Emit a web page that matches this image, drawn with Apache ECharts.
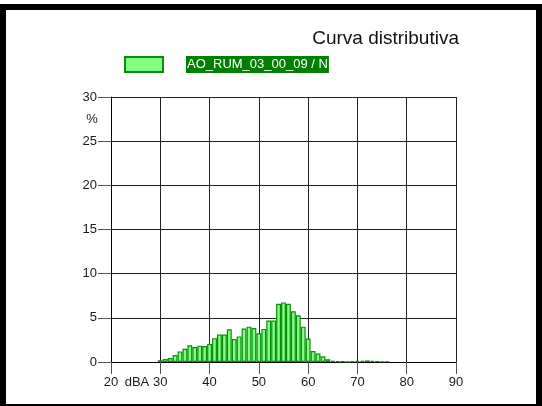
<!DOCTYPE html>
<html>
<head>
<meta charset="utf-8">
<script src="https://cdn.jsdelivr.net/npm/echarts@6/dist/echarts.min.js"></script>
<style>
html,body{margin:0;padding:0;background:#fff;}
#chart{width:542px;height:406px;}
</style>
</head>
<body>
<div id="chart"></div>
<script>
// ---- data ----
var titleText = 'Curva distributiva';
var seriesName = 'AO_RUM_03_00_09 / N';
var levels = [30,31,32,33,34,35,36,37,38,39,40,41,42,43,44,45,46,47,48,49,50,51,52,53,54,55,56,57,58,59,60,61,62,63,64,65,66,67,68,69,70,71,72,73,74,75,76];
var percents = [0.2,0.35,0.45,0.8,1.2,1.5,1.9,1.7,1.85,1.8,2.05,2.7,3.1,3.1,3.7,2.6,2.9,3.8,4.0,3.85,3.25,3.75,4.7,4.7,6.6,6.75,6.6,5.75,5.3,4.0,2.65,1.25,0.95,0.65,0.3,0.12,0.08,0.08,0.05,0.1,0.12,0.12,0.18,0.12,0.08,0.06,0.06];
var xTicks = [20,30,40,50,60,70,80,90];
var yTicks = [0,5,10,15,20,25,30];

var barData = levels.map(function(l, i){ return [l, percents[i]]; });

var chart = echarts.init(document.getElementById('chart'), null, {renderer:'canvas'});
var fontFam = '"Liberation Sans", Arial, sans-serif';
chart.setOption({
  animation: false,
  backgroundColor: '#fff',
  textStyle: {fontFamily: fontFam},
  title: {
    text: titleText,
    right: 78, top: 24,
    textStyle: {fontSize: 19, fontWeight: 'normal', color: '#111', fontFamily: fontFam}
  },
  legend: {
    left: 124, top: 56,
    itemWidth: 38, itemHeight: 15,
    padding: 0,
    data: [{name: seriesName, icon: 'rect'}],
    formatter: function(n){ return '{gap|}{lab|' + n + '}'; },
    textStyle: {
      fontFamily: fontFam,
      rich: {
        gap: {width: 18},
        lab: {backgroundColor: '#008000', color: '#fff', fontSize: 13, padding: [2, 1, 2, 1], fontFamily: fontFam}
      }
    }
  },
  grid: {left: 111, right: 86, top: 97, bottom: 44, containLabel: false, outerBoundsMode: 'none'},
  xAxis: {
    type: 'value',
    min: xTicks[0], max: xTicks[xTicks.length - 1], interval: 10,
    name: 'dBA',
    nameLocation: 'middle',
    nameGap: 14,
    nameMoveOverlap: false,
    nameTextStyle: {align: 'center', verticalAlign: 'top', padding: [0, 293, 0, 0], fontSize: 13, color: '#1a1a1a'},
    axisLine: {show: true, lineStyle: {color: '#000', width: 1}},
    axisTick: {show: true, inside: false, length: 12, lineStyle: {color: '#555'}},
    axisLabel: {margin: 14, fontSize: 13, color: '#1a1a1a'},
    splitLine: {show: true, lineStyle: {color: '#222', width: 1}}
  },
  yAxis: {
    type: 'value',
    min: yTicks[0], max: yTicks[yTicks.length - 1], interval: 5,
    name: '%',
    nameLocation: 'end',
    nameGap: -22,
    nameMoveOverlap: false,
    nameTextStyle: {align: 'center', verticalAlign: 'middle', padding: [0, 38, 0, 0], fontSize: 13, color: '#1a1a1a'},
    axisLine: {show: true, lineStyle: {color: '#000', width: 1}},
    axisTick: {show: true, inside: false, length: 13, lineStyle: {color: '#555'}},
    axisLabel: {margin: 14, fontSize: 13, color: '#1a1a1a'},
    splitLine: {show: true, lineStyle: {color: '#222', width: 1}}
  },
  series: [{
    name: seriesName,
    type: 'bar',
    data: barData,
    barWidth: 4.9,
    itemStyle: {color: '#80ff80', borderColor: '#0c8c0c', borderWidth: 1.2},
    z: 3
  }],
  graphic: [{
    type: 'rect',
    shape: {x: 3, y: 7, width: 536, height: 400},
    style: {fill: 'none', stroke: '#000', lineWidth: 6},
    silent: true,
    z: 100
  }]
});
</script>
</body>
</html>
